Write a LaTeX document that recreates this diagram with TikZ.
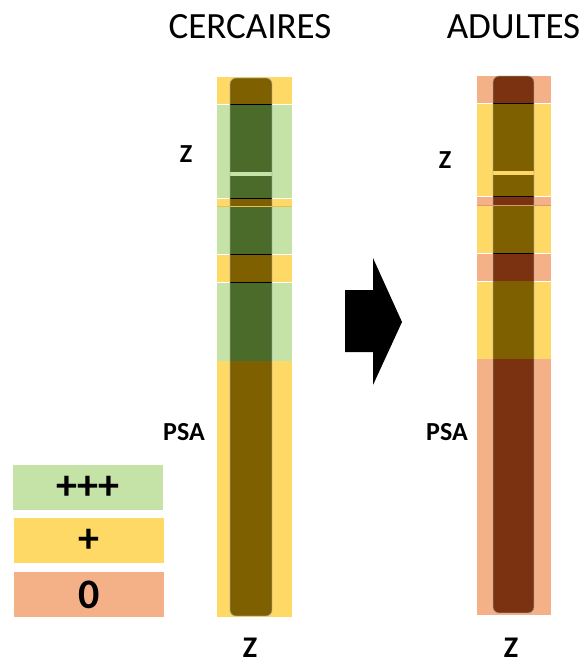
\documentclass[tikz,border=0pt]{standalone}
\usepackage{fontspec}
\setmainfont{Carlito}
\definecolor{grn}{HTML}{C5E3A6}
\definecolor{yel}{HTML}{FFD966}
\definecolor{red}{HTML}{F4B086}
\definecolor{dgr}{HTML}{4A6B2A}
\definecolor{brn}{HTML}{7F6000}
\definecolor{drd}{HTML}{7A3210}
\definecolor{lgr}{HTML}{C5E3A6}
\definecolor{lyl}{HTML}{FFD966}
\tikzset{
  title/.style={font=\fontsize{37}{37}\selectfont, inner sep=0pt},
  lab/.style={font=\fontsize{26}{26}\selectfont\bfseries, inner sep=0pt},
  blab/.style={font=\fontsize{30}{30}\selectfont\bfseries, inner sep=0pt},
  legbox/.style={minimum width=150pt, minimum height=45pt, inner sep=0pt, font=\fontsize{42}{42}\selectfont\bfseries},
  chromoutline/.style={rounded corners=6pt, draw=gray!70, draw opacity=0.7, line width=0.8pt},
}
\begin{document}
\begin{tikzpicture}[x=1pt,y=-1pt]
\useasboundingbox (0,0) rectangle (582,662);
% ---- left strip (cercaires)
\foreach \a/\b/\c in {77/104/yel,104/198/grn,198/206/yel,206/254/grn,254/282/yel,282/361/grn,361/617/yel}
  \fill[\c] (217,\a) rectangle (292,\b);
\foreach \y in {104,198,254,282}
  \draw[white, line width=0.7pt] (217,\y) -- (292,\y);
\draw[yel!80!brn, line width=1pt] (217,206) -- (292,206);
\begin{scope}
  \clip[rounded corners=6pt] (230,78) rectangle (272,616);
  \foreach \a/\b/\c in {78/104/brn,104/198/dgr,198/206/brn,206/254/dgr,254/282/brn,282/361/dgr,361/616/brn}
    \fill[\c] (230,\a) rectangle (272,\b);
  \fill[lgr] (230,172) rectangle (272,175.5);
  \draw[yel!80!brn, line width=1pt] (230,206) -- (272,206);
  \foreach \y in {104,198,254,282}
    \draw[black, line width=1pt] (230,\y) -- (272,\y);
\end{scope}
\draw[chromoutline] (230,78) rectangle (272,616);
% ---- right strip (adultes)
\foreach \a/\b/\c in {76/103/red,103/196/yel,196/205/red,205/253/yel,253/281/red,281/359/yel,359/615/red}
  \fill[\c] (477,\a) rectangle (551,\b);
\foreach \y in {103,196,253,281}
  \draw[white, line width=0.7pt] (477,\y) -- (551,\y);
\draw[red!80!drd, line width=1pt] (477,205) -- (551,205);
\begin{scope}
  \clip[rounded corners=6pt] (493,76) rectangle (534,613);
  \foreach \a/\b/\c in {76/103/drd,103/196/brn,196/205/drd,205/253/brn,253/281/drd,281/359/brn,359/613/drd}
    \fill[\c] (493,\a) rectangle (534,\b);
  \fill[lyl] (493,171) rectangle (534,174.5);
  \draw[red!80!drd, line width=1pt] (493,205) -- (534,205);
  \foreach \y in {103,196,253}
    \draw[black, line width=1pt] (493,\y) -- (534,\y);
\end{scope}
\draw[chromoutline] (493,76) rectangle (534,613);
% ---- arrow
\fill[black] (345,290) -- (373,290) -- (373,258) -- (402,322) -- (373,385) -- (373,352) -- (345,352) -- cycle;
% ---- titles and labels
\node[title] (t1) at (250,27) {CERCAIRES};
\node[title] (t2) at (513.5,27) {ADULTES};
\node[lab] (z1) at (186,154) {Z};
\node[lab] (p1) at (184,432) {PSA};
\node[lab] (z2) at (445,160) {Z};
\node[lab] (p2) at (447,432) {PSA};
\node[blab] (z3) at (250,648) {Z};
\node[blab] (z4) at (511,648) {Z};
% ---- legend
\node[legbox, fill=grn] (l1) at (88,487.5) {+++};
\node[legbox, fill=yel] (l2) at (89,540.5) {+};
\node[legbox, fill=red] (l3) at (89,594.5) {0};
\end{tikzpicture}
\end{document}
